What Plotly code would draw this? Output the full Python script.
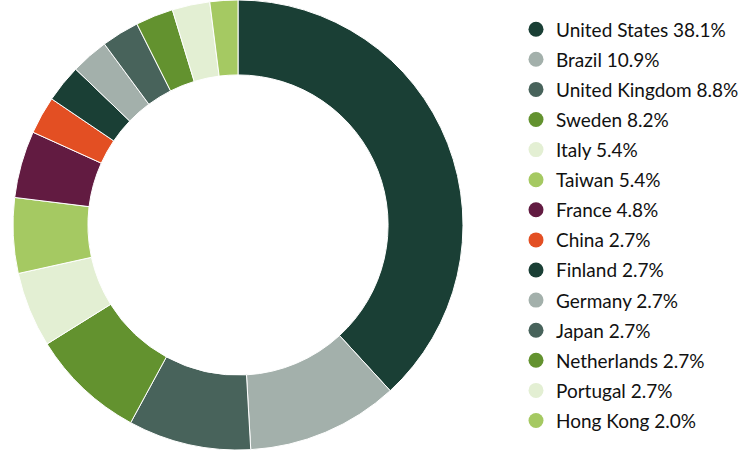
import plotly.graph_objects as go

countries = ["United States", "Brazil", "United Kingdom", "Sweden", "Italy", "Taiwan",
             "France", "China", "Finland", "Germany", "Japan", "Netherlands",
             "Portugal", "Hong Kong"]
shares = [38.1, 10.9, 8.8, 8.2, 5.4, 5.4, 4.8, 2.7, 2.7, 2.7, 2.7, 2.7, 2.7, 2.0]
colors = ["#1a3f35", "#a3b0ab", "#48635b", "#63922f", "#e3efd3", "#a5c962",
          "#621b41", "#e34f23", "#1a3f35", "#a3b0ab", "#48635b", "#63922f",
          "#e3efd3", "#a5c962"]

labels = [f"{c} {v:.1f}%" for c, v in zip(countries, shares)]

fig = go.Figure()
fig.add_trace(go.Pie(
    labels=labels, values=shares, sort=False, direction="clockwise", rotation=0,
    hole=0.667, marker=dict(colors=colors, line=dict(color="white", width=1)),
    textinfo="none", hoverinfo="label", showlegend=False,
    domain=dict(x=[13/750, 463/750], y=[0, 1]),
))
for i, (lab, col) in enumerate(zip(labels, colors)):
    fig.add_trace(go.Scatter(
        x=[None], y=[None], mode="markers", name=lab,
        marker=dict(symbol="circle", size=15, color=col),
        legendgroup=str(i), showlegend=True,
    ))

fig.update_layout(
    width=750, height=450, margin=dict(l=0, r=0, t=0, b=0),
    paper_bgcolor="white", plot_bgcolor="white",
    xaxis=dict(visible=False), yaxis=dict(visible=False),
    font=dict(family="Lato", size=19, color="#111111"),
    legend=dict(x=0.688, y=0.977, xanchor="left", yanchor="top",
                tracegroupgap=2.4, bgcolor="rgba(0,0,0,0)"),
)
fig.write_html("out.html", config={"displayModeBar": False},
               post_script="document.body.style.margin='0';")
